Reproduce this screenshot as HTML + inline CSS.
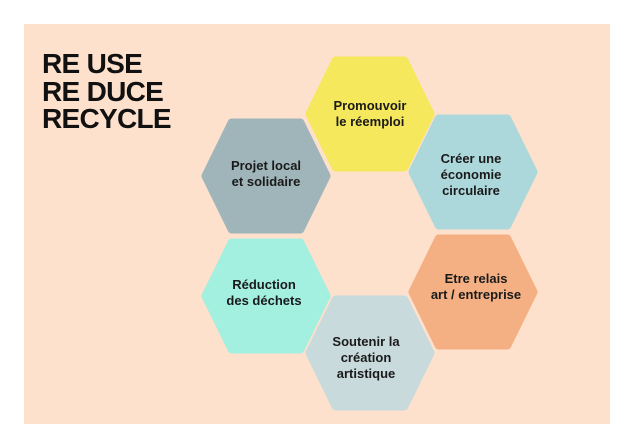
<!DOCTYPE html>
<html><head><meta charset="utf-8"><style>
html,body{margin:0;padding:0;background:#fff;}
body{width:634px;height:448px;position:relative;overflow:hidden;font-family:"Liberation Sans",sans-serif;}
.bg{position:absolute;left:24px;top:24px;width:586px;height:400px;background:#fde1cd;}
.title{position:absolute;left:42px;top:50px;font-weight:bold;font-size:28px;line-height:27.5px;color:#111;letter-spacing:-0.7px;}
svg{position:absolute;left:0;top:0;}
text{font-family:"Liberation Sans",sans-serif;font-weight:bold;font-size:13px;fill:#1a1a1a;text-anchor:middle;}
</style></head><body>
<div class="bg"></div>
<div class="title">RE USE<br>RE DUCE<br>RECYCLE</div>
<svg width="634" height="448" viewBox="0 0 634 448">
<defs><polygon id="h" points="-60,0 -34,-53 34,-53 60,0 34,53 -34,53" stroke-width="9" stroke-linejoin="round"/></defs>
<use href="#h" x="370" y="114" fill="#f5e85c" stroke="#f5e85c"/>
<use href="#h" x="266" y="176" fill="#9fb5b9" stroke="#9fb5b9"/>
<use href="#h" x="473" y="172" fill="#acd8dc" stroke="#acd8dc"/>
<use href="#h" x="473" y="292" fill="#f4b083" stroke="#f4b083"/>
<use href="#h" x="266" y="296" fill="#a3efe0" stroke="#a3efe0"/>
<use href="#h" x="370" y="353" fill="#c9dadd" stroke="#c9dadd"/>
<text x="370" y="110">Promouvoir</text><text x="370" y="126">le réemploi</text>
<text x="266" y="170">Projet local</text><text x="266" y="186">et solidaire</text>
<text x="471" y="163">Créer une</text><text x="471" y="179">économie</text><text x="471" y="195">circulaire</text>
<text x="476" y="283">Etre relais</text><text x="476" y="299">art / entreprise</text>
<text x="264" y="289">Réduction</text><text x="264" y="305">des déchets</text>
<text x="366" y="346">Soutenir la</text><text x="366" y="362">création</text><text x="366" y="378">artistique</text>
</svg>
</body></html>
